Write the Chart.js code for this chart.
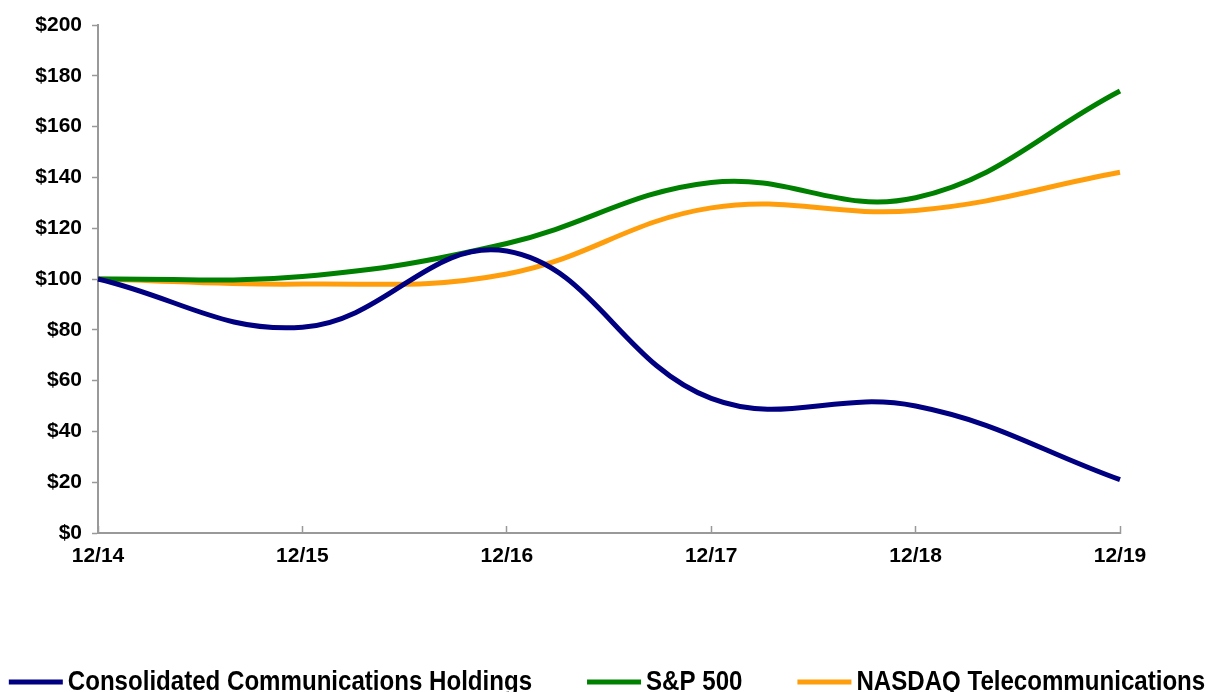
<!DOCTYPE html>
<html>
<head>
<meta charset="utf-8">
<script src="https://cdn.jsdelivr.net/npm/chart.js@4.4.1/dist/chart.umd.min.js"></script>
<style>
  html, body { margin: 0; padding: 0; background: #fff; overflow: hidden; }
</style>
</head>
<body>
<canvas id="myChart" width="1210" height="692"></canvas>
<script>
// dados
var anos = ['12/14', '12/15', '12/16', '12/17', '12/18', '12/19'];
var consolidated = [100, 81, 111, 53, 50, 21];
var sp500 = [100, 101, 114, 138, 132, 174];
var nasdaqTelecom = [100, 98, 102, 128, 127, 142];

var fonteEixo = { family: "'Liberation Sans', Arial", size: 21, weight: 'bold' };

// legenda desenhada a mao porque o texto original e condensado
const legendaCondensada = {
    id: 'legendaCondensada',
    afterDraw(chart) {
        const ctx = chart.ctx;
        const escala = 0.86;
        const linha = 54, espaco = 5, gap = 55;
        ctx.save();
        ctx.font = "bold 28px 'Liberation Sans', Arial";
        var larguras = chart.data.datasets.map(ds => ctx.measureText(ds.label).width * escala);
        var total = 0;
        larguras.forEach(w => total += linha + espaco + w);
        total += gap * (larguras.length - 1);
        var x = 607 - total / 2;
        var y = 682;
        chart.data.datasets.forEach((ds, i) => {
            ctx.fillStyle = ds.borderColor;
            ctx.fillRect(x, y - 2.5, linha, 5);
            x += linha + espaco;
            ctx.save();
            ctx.translate(x, y);
            ctx.scale(escala, 1);
            ctx.fillStyle = '#000';
            ctx.textBaseline = 'middle';
            ctx.fillText(ds.label, 0, 0);
            ctx.restore();
            x += larguras[i] + gap;
        });
        ctx.restore();
    }
};

const data = {
    labels: anos,
    datasets: [{
        label: 'Consolidated Communications Holdings',
        data: consolidated,
        borderColor: '#000080',
        backgroundColor: '#000080'
    }, {
        label: 'S&P 500',
        data: sp500,
        borderColor: '#008000',
        backgroundColor: '#008000'
    }, {
        label: 'NASDAQ Telecommunications',
        data: nasdaqTelecom,
        borderColor: '#FF9E0D',
        backgroundColor: '#FF9E0D'
    }]
};

const config = {
    type: 'line',
    data: data,
    plugins: [legendaCondensada],
    options: {
        responsive: false,
        animation: false,
        layout: { padding: { left: 10, right: 90, top: 25, bottom: 99 } },
        elements: {
            line: { borderWidth: 5, tension: 0.4, borderCapStyle: 'butt' },
            point: { radius: 0 }
        },
        plugins: {
            tooltip: { enabled: false },
            legend: { display: false }
        },
        scales: {
            x: {
                offset: false,
                grid: { display: true, drawOnChartArea: false, drawTicks: true, tickLength: -7, tickColor: '#999', tickWidth: 1.5 },
                border: { color: '#999', width: 2 },
                ticks: { color: '#000', padding: 18, maxRotation: 0, font: fonteEixo },
                afterFit: function (scale) { scale.height = 60; }
            },
            y: {
                min: 0,
                max: 200,
                grid: { display: true, drawOnChartArea: false, drawTicks: true, tickLength: 6, tickColor: '#999', tickWidth: 1.5 },
                border: { color: '#999', width: 2 },
                ticks: {
                    stepSize: 20,
                    color: '#000',
                    padding: 10,
                    font: fonteEixo,
                    callback: function (v) { return '$' + v; }
                },
                afterFit: function (scale) { scale.width = 88; }
            }
        }
    }
};

const myChart = new Chart(document.getElementById('myChart'), config);
</script>
</body>
</html>
